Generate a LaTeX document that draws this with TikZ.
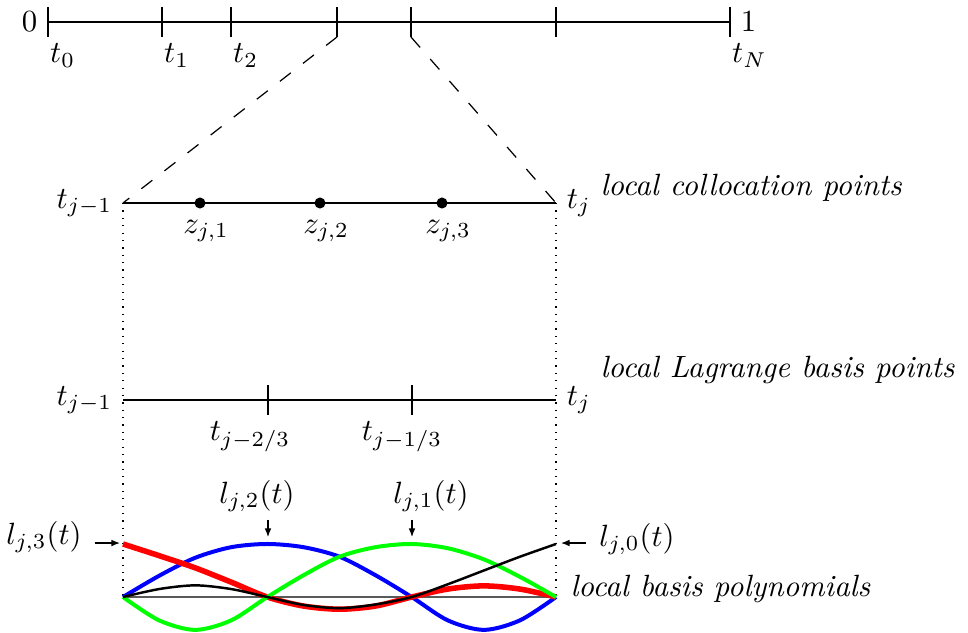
\documentclass[tikz,border=0pt]{standalone}
\usepackage{amsmath}
\usepackage{tikz}
\usetikzlibrary{arrows.meta,positioning,calc}
\tikzset{
  ax/.style={line width=0.45pt},
  tk/.style={line width=0.45pt},
  zoomln/.style={dash pattern=on 4.5pt off 5pt, line width=0.4pt},
  guide/.style={dotted, line width=0.4pt},
  cpt/.style={circle, fill, inner sep=0pt, minimum size=3.6pt},
  ptr/.style={-{Latex[length=2.8pt,width=2.2pt]}, line width=0.4pt},
  lbl/.style={inner sep=2.3pt},
  note/.style={font=\itshape, inner sep=0pt},
  bas/.style={draw=black!65, line width=0.6pt},
}

\begin{document}
\begin{tikzpicture}[x=0.01143cm, y=-0.01143cm]
\useasboundingbox (0,0) rectangle (968,632);

% global grid on [0,1]
\coordinate (T0) at (48,22);
\coordinate (TN) at (730,22);
\draw[ax] (T0) -- (TN);
\foreach \x/\n in {48/0, 162/1, 231/2, 337/jl, 411/jr, 556/m, 730/N}
  \draw[tk] (\x,7) -- (\x,37) coordinate (tk\n);
\node[left] (zero) at (T0) {$0$};
\node[right] (one) at (TN) {$1$};
\foreach \n in {0,1,2,N}
  \node[anchor=north west, inner xsep=0.5pt, inner ysep=2pt] (t\n) at (tk\n) {$t_\n$};

% one element, collocation points
\coordinate (colL) at (123,203);
\coordinate (colR) at (556,203);
\draw[ax] (colL) -- (colR);
\draw[zoomln] (tkjl) -- (colL);
\draw[zoomln] (tkjr) -- (colR);
\node[left] (colLt) at (colL) {$t_{j-1}$};
\node[right] (colRt) at (colR) {$t_j$};
\node[note, anchor=base west] (colnote) at (600,195) {local collocation points};
\foreach \i/\x in {1/200, 2/320, 3/442} {
  \node[cpt] (z\i) at (\x,203) {};
  \node[below=0pt of z\i, xshift=2pt] (zl\i) {$z_{j,\i}$};
}

% one element, Lagrange points
\coordinate (lagL) at (123,400);
\coordinate (lagR) at (556,400);
\draw[ax] (lagL) -- (lagR);
\node[left] (lagLt) at (lagL) {$t_{j-1}$};
\node[right] (lagRt) at (lagR) {$t_j$};
\node[note, anchor=base west] (lagnote) at (600,377) {local Lagrange basis points};
\foreach \i/\x/\lx/\lab in {1/268/250/{t_{j-2/3}}, 2/412/402/{t_{j-1/3}}} {
  \draw[tk] (\x,385) -- (\x,415) coordinate (q\i);
  \node[below, inner ysep=2pt] (ql\i) at (\lx,415) {$\lab$};
}

% one element, basis polynomials
\coordinate (polL) at (123,597);
\coordinate (polR) at (556,597);
\draw[guide] (colL) -- (polL);
\draw[guide] (colR) -- (polR);
\draw[bas] (polL) -- (polR);
\begin{scope}[shift={(polL)}, x=4.949cm, y=0.606cm]
\draw[blue, line width=1.3pt] plot[smooth] coordinates {(0,0) (0.0833,0.40) (0.1667,0.74)
  (0.25,0.94) (0.3333,1) (0.4167,0.94) (0.5,0.76) (0.5833,0.41) (0.6667,0)
  (0.75,-0.44) (0.8333,-0.62) (0.9167,-0.44) (1,0)};
\draw[red, line width=1.8pt] plot[smooth] coordinates {(0,1) (0.0833,0.78) (0.1667,0.55)
  (0.25,0.28) (0.3333,0) (0.4167,-0.17) (0.5,-0.23) (0.5833,-0.17) (0.6667,0)
  (0.75,0.15) (0.8333,0.21) (0.9167,0.15) (1,0)};
\draw[green, line width=1.3pt] plot[smooth] coordinates {(0,0) (0.0833,-0.44) (0.1667,-0.62)
  (0.25,-0.44) (0.3333,0) (0.4167,0.41) (0.5,0.76) (0.5833,0.94) (0.6667,1)
  (0.75,0.92) (0.8333,0.71) (0.9167,0.38) (1,0)};
\draw[black, line width=0.8pt] plot[smooth] coordinates {(0,0) (0.0833,0.15) (0.1667,0.22)
  (0.25,0.15) (0.3333,0) (0.4167,-0.15) (0.5,-0.21) (0.5833,-0.14) (0.6667,0)
  (0.75,0.24) (0.8333,0.5) (0.9167,0.76) (1,1)};
\end{scope}
\node[note, anchor=base west] (polnote) at (570,596) {local basis polynomials};

% pointers to the curves
\coordinate (p3) at (120,543);
\coordinate (p2) at (268,537);
\coordinate (p1) at (412,537);
\coordinate (p0) at (561,543);
\node[lbl, inner xsep=4pt] (l3) at (44,537) {$l_{j,3}(t)$};
\node[lbl] (l2) at (257,496) {$l_{j,2}(t)$};
\node[lbl] (l1) at (431,496) {$l_{j,1}(t)$};
\node[lbl, inner xsep=4pt] (l0) at (637,539) {$l_{j,0}(t)$};
\draw[ptr] (l3.east |- p3) -- (p3);
\draw[ptr] (l2.south -| p2) -- (p2);
\draw[ptr] (l1.south -| p1) -- (p1);
\draw[ptr] (l0.west |- p0) -- (p0);
\end{tikzpicture}
\end{document}
